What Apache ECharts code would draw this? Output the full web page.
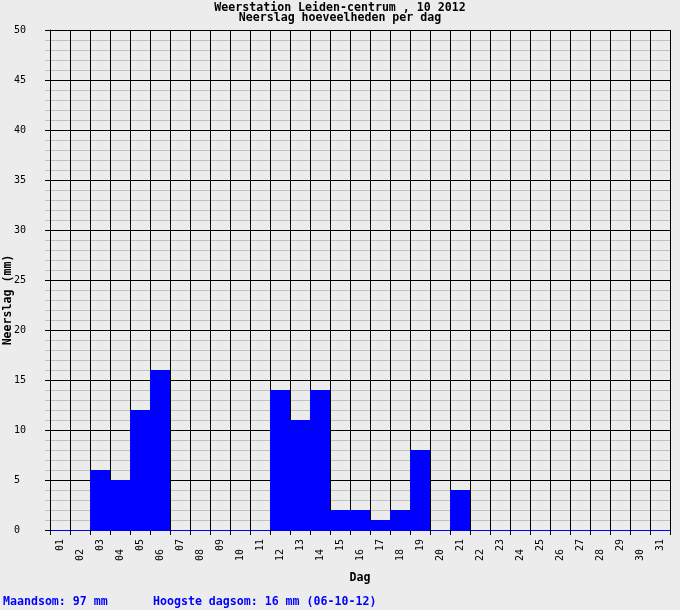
<!DOCTYPE html>
<html>
<head>
<meta charset="utf-8">
<script src="https://cdn.jsdelivr.net/npm/echarts@6/dist/echarts.min.js"></script>
<style>
html,body{margin:0;padding:0;background:#ececec;}
#chart{width:680px;height:610px;}
</style>
</head>
<body>
<div id="chart"></div>
<script>
var days = ['01','02','03','04','05','06','07','08','09','10','11','12','13','14','15','16','17','18','19','20','21','22','23','24','25','26','27','28','29','30','31'];
var rain = [0,0,6,5,12,16,0,0,0,0,0,14,11,14,2,2,1,2,8,0,4,0,0,0,0,0,0,0,0,0,0];
var titleLines = ['Weerstation Leiden-centrum , 10 2012', 'Neerslag hoeveelheden per dag'];
var yName = 'Neerslag (mm)';
var xName = 'Dag';
var footerLeft = 'Maandsom: 97 mm';
var footerRight = 'Hoogste dagsom: 16 mm (06-10-12)';

var MONO = '"DejaVu Sans Mono", "Liberation Mono", monospace';
var chart = echarts.init(document.getElementById('chart'));
chart.setOption({
  backgroundColor: '#ececec',
  animation: false,
  title: {
    text: titleLines.join('\n'),
    left: 'center',
    top: -2,
    textStyle: {fontFamily: MONO, fontWeight: 'bold', fontSize: 11.6, lineHeight: 10, color: '#000'}
  },
  grid: {left: 50, right: 10, top: 30, bottom: 80, containLabel: false, outerBoundsMode: 'none'},
  xAxis: {
    type: 'category',
    data: days,
    boundaryGap: true,
    name: xName,
    nameLocation: 'middle',
    nameGap: 42,
    nameTextStyle: {fontFamily: MONO, fontWeight: 'bold', fontSize: 11.6, color: '#000'},
    axisLine: {show: true, lineStyle: {color: '#0000ff', width: 1}},
    axisTick: {show: true, length: 5, lineStyle: {color: '#000'}},
    splitLine: {show: true, interval: 0, lineStyle: {color: '#000', width: 1}},
    axisLabel: {
      interval: 0,
      rotate: 90,
      margin: 9,
      fontFamily: MONO,
      fontSize: 10,
      color: '#000',
      formatter: function (v, i) { return i % 2 === 0 ? '{a|' + v + '}' : '{a|' + v + '}{s| }'; },
      rich: {
        a: {fontFamily: MONO, fontSize: 10, color: '#000'},
        s: {width: 10, fontFamily: MONO, fontSize: 10}
      }
    }
  },
  yAxis: {
    type: 'value',
    min: 0,
    max: 50,
    interval: 5,
    axisLine: {show: true, lineStyle: {color: '#000', width: 1}},
    axisTick: {show: true, length: 5, lineStyle: {color: '#000'}},
    minorTick: {show: true, splitNumber: 5, length: 5, lineStyle: {color: '#c0c0c0'}},
    splitLine: {show: true, lineStyle: {color: '#000', width: 1}},
    minorSplitLine: {show: true, lineStyle: {color: '#c0c0c0', width: 1}},
    axisLabel: {
      align: 'left',
      margin: 36,
      fontFamily: MONO,
      fontSize: 10,
      color: '#000'
    }
  },
  series: [{
    type: 'bar',
    data: rain,
    barWidth: '100%',
    barCategoryGap: '0%',
    itemStyle: {color: '#0000ff'},
    z: 5
  }],
  graphic: [
    {type: 'text', x: 8, y: 300, rotation: Math.PI / 2, style: {text: yName, align: 'center', verticalAlign: 'middle', fontFamily: MONO, fontWeight: 'bold', fontSize: 11.6, fill: '#000'}},
    {type: 'text', left: 3, top: 596, style: {text: footerLeft, fontFamily: MONO, fontWeight: 'bold', fontSize: 11.6, fill: '#0000ff'}},
    {type: 'text', left: 153, top: 596, style: {text: footerRight, fontFamily: MONO, fontWeight: 'bold', fontSize: 11.6, fill: '#0000ff'}}
  ]
});
</script>
</body>
</html>
